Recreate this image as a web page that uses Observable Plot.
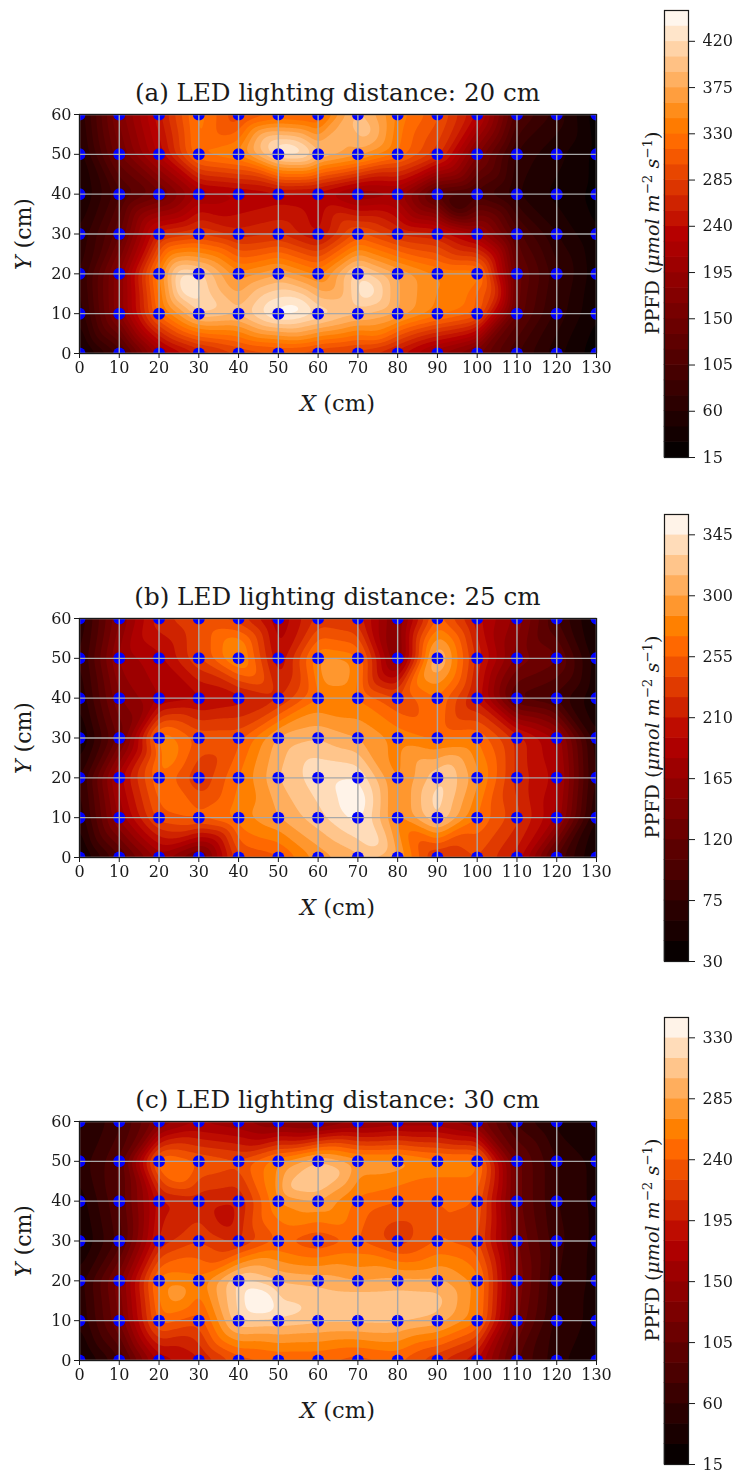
<!DOCTYPE html>
<html><head><meta charset="utf-8">
<script src="https://cdn.jsdelivr.net/npm/d3@7"></script>
<script src="https://cdn.jsdelivr.net/npm/@observablehq/plot@0.6"></script>
<style>
html,body{margin:0;background:#fff}
#page{position:relative;width:735px;height:1474px;overflow:hidden;font-family:"DejaVu Serif",serif;color:#1a1a1a}
#page svg{position:absolute;background:transparent;max-width:none;filter:blur(0.35px)}
.t{position:absolute;white-space:nowrap;line-height:1}
.title{font-size:24.6px;left:0;width:675px;text-align:center}
.xl{font-size:22.6px;left:79px;width:517px;text-align:center}
.yl{font-size:22px;left:24px;transform:translate(-50%,-50%) rotate(-90deg)}
.cl{font-size:19.1px;left:653px;transform:translate(-50%,-50%) rotate(-90deg)}
.cl sup{font-size:70%;line-height:0}
</style></head><body><div id="page"></div>
<script>
const xs = [0,10,20,30,40,50,60,70,80,90,100,110,120,130];
const ys = [60,50,40,30,20,10,0];
const xTicks = xs;
const yTicks = [0,10,20,30,40,50,60];

const gridA = [
 [ 60,170,250,340,285,310,300,395,340,305,240,110, 70, 20],
 [ 50,150,230,335,350,425,395,370,330,280,165, 70, 50, 25],
 [ 40,100,140,210,220,230,225,190,200,110, 95, 60, 40, 25],
 [ 60,130,265,285,260,270,235,305,270,260,210,110, 60, 30],
 [ 70,180,345,415,350,375,340,420,375,345,345,140, 80, 35],
 [ 60,180,325,405,395,445,420,395,375,340,315,130, 70, 30],
 [ 30, 90,200,250,280,290,280,270,240,190,150, 90, 50, 20]];
const extraA = [[27,17,450],[25,20,425],[30,13,425],[52,51,450],[47,54,405],[57,50,430],[55,11,450],[48,13,425],[62,8,395],[72,16,440],[75,20,395],[68,12,400],[72,56,405],[64,58,375],[95,37,75],[35,4,320],[55,4,360],[75,4,330],[95,15,345],[105,15,275]];
const gridB = [
 [ 60,150,220,240,230,180,230,220,145,260,200,160, 90, 40],
 [ 70,170,190,240,295,195,285,275,140,325,220,145,125, 50],
 [ 60,150,180,190,200,220,270,270,240,270,205,100, 85, 45],
 [ 40,125,285,250,250,305,315,300,280,265,270,220,180, 60],
 [ 70,190,270,225,270,315,340,345,280,325,290,220,190, 65],
 [ 60,170,250,260,280,300,325,352,280,335,270,230,180, 55],
 [ 35,100,170,120,240,250,290,310,300,220,240,205,100, 40]];
const extraB = [[70,14,362],[66,18,350],[58,24,335],[90,15,340],[92,22,330],[90,50,335],[40,53,290],[64,48,310],[75,3,340],[22,25,285]];
const gridC = [
 [ 40, 70,130,160,150,130,120,140,150,150,130, 70, 40, 30],
 [ 50, 90,258,240,230,270,305,280,280,265,265,110, 60, 40],
 [ 35, 90,190,200,195,270,285,250,240,240,240,110, 60, 40],
 [ 25, 80,200,225,205,240,225,240,215,240,230,120, 65, 40],
 [ 50,130,265,260,320,300,295,285,290,290,265,130, 60, 40],
 [ 45,120,250,230,315,310,305,305,305,295,260,120, 55, 40],
 [ 20, 70,170,190,230,240,240,230,240,210,180, 90, 50, 30]];
const extraC = [[45,15,355],[47,14,352],[43,17,345],[50,12,325],[60,45,320],[52,43,305],[66,47,305],[25,47,264],[25,17,285],[60,15,312],[70,15,312],[80,15,312],[90,15,308],[37,35,185],[80,32,215]];

const panels = [
 {title:"(a) LED lighting distance: 20 cm", grid:gridA, extra:extraA, lo:15, hi:450, top:114, barTop:10, barBottom:457, ticks:[15,60,105,150,195,240,285,330,375,420]},
 {title:"(b) LED lighting distance: 25 cm", grid:gridB, extra:extraB, lo:30, hi:360, top:618, barTop:514, barBottom:961, ticks:[30,75,120,165,210,255,300,345]},
 {title:"(c) LED lighting distance: 30 cm", grid:gridC, extra:extraC, lo:15, hi:345, top:1121, barTop:1017, barBottom:1464, ticks:[15,60,105,150,195,240,285,330]}
];
const STEP = 15;
const ink = "#1a1a1a";
const page = document.getElementById("page");
const clamp = v => Math.max(0, Math.min(1, v));
const heat = t => d3.rgb(255*clamp(t/0.7), 255*clamp(2*t-1), 255*clamp(4*t-3)).formatHex();

function place(el,l,t){ el.style.left=l+"px"; el.style.top=t+"px"; page.appendChild(el); }
function text(cls,html,css){ const d=document.createElement("div"); d.className="t "+cls; d.innerHTML=html; Object.assign(d.style,css); page.appendChild(d); }

for (const p of panels) {
  const levels = d3.range(p.lo, p.hi + 1, STEP);
  const bands = levels.slice(0,-1).map(v => ({lo:v, hi:v+STEP}));
  const colors = bands.map(b => heat((b.lo + STEP/2 - p.lo)/(p.hi - p.lo)));
  const color = {type:"threshold", domain:levels.slice(1,-1), range:colors};
  const pts = [];
  ys.forEach((y,i)=>xs.forEach((x,j)=>pts.push({x,y,v:p.grid[i][j]})));
  const samples = pts.concat(p.extra.map(([x,y,v])=>({x,y,v})));
  const svg = Plot.plot({
    width:640, height:300, marginLeft:79, marginRight:44, marginTop:10, marginBottom:51,
    style:{background:"transparent",overflow:"visible"},
    x:{domain:[0,130]}, y:{domain:[0,60]}, color,
    marks:[
      Plot.frame({fill:"#000"}),
      Plot.contour(samples,{x:"x",y:"y",fill:"v",x1:0,y1:0,x2:130,y2:60,interpolate:"barycentric",thresholds:levels.slice(0,-1),blur:5,pixelSize:1,stroke:"none"}),
      Plot.dot(pts,{x:"x",y:"y",r:6,fill:"#0000ff",clip:true}),
      Plot.ruleX(xTicks,{stroke:"#a8a8a8",strokeWidth:1.4}),
      Plot.ruleY(yTicks,{stroke:"#a8a8a8",strokeWidth:1.4}),
      Plot.frame({stroke:ink,strokeWidth:1.2}),
      Plot.axisX({ticks:xTicks,tickFormat:d=>String(d),tickSize:5,tickPadding:3,fontSize:16,label:null,fontFamily:"DejaVu Serif",color:ink}),
      Plot.axisY({ticks:yTicks,tickFormat:d=>String(d),tickSize:5,tickPadding:3,fontSize:16,label:null,fontFamily:"DejaVu Serif",color:ink})
    ]
  });
  place(svg,0,p.top-10);
  const bar = Plot.plot({
    width:105, height:p.barBottom-p.barTop+24, marginLeft:34, marginRight:47, marginTop:10, marginBottom:14,
    style:{background:"transparent",overflow:"visible"},
    x:{domain:[0,1],axis:null}, y:{domain:[p.lo,p.hi]}, color,
    marks:[
      Plot.rect(bands,{x1:0,x2:1,y1:"lo",y2:"hi",fill:"lo",inset:-0.3}),
      Plot.frame({stroke:ink,strokeWidth:1.2}),
      Plot.axisY(p.ticks,{anchor:"right",tickSize:6,tickPadding:8,fontSize:16,label:null,fontFamily:"DejaVu Serif",color:ink,tickFormat:d=>String(d)})
    ]
  });
  place(bar,630,p.barTop-10);
  text("title",p.title,{top:(p.top-33)+"px"});
  text("xl","<i>X</i> (cm)",{top:(p.top+278)+"px"});
  text("yl","<i>Y</i> (cm)",{top:(p.top+120)+"px"});
  text("cl","PPFD (<i>μmol m</i><sup>−2</sup> <i>s</i><sup>−1</sup>)",{top:(p.top+119)+"px"});
}
</script></body></html>
